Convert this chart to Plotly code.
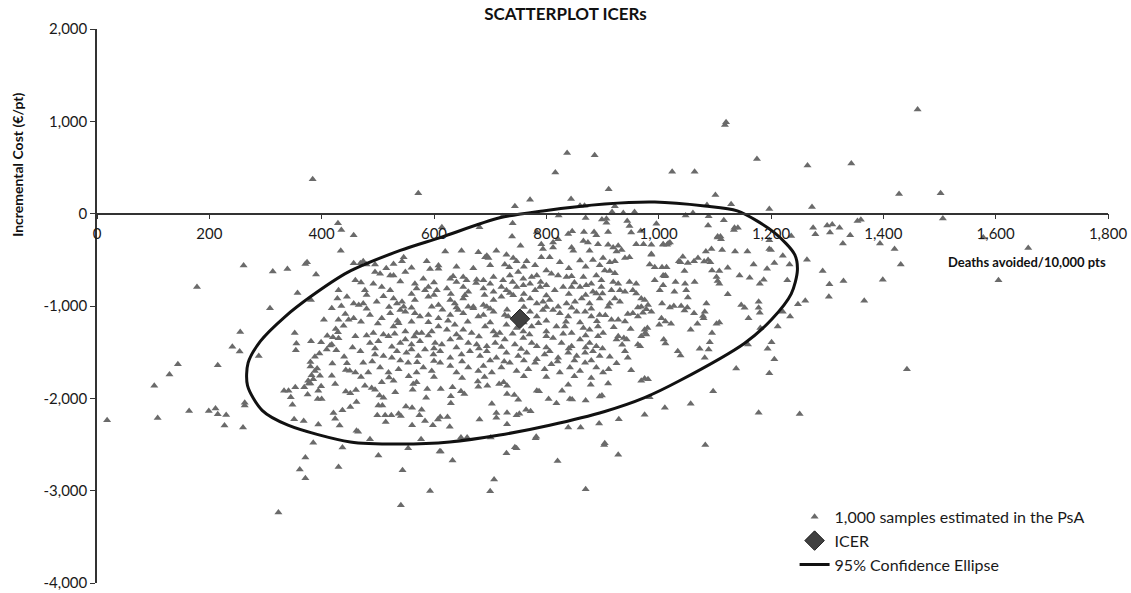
import plotly.graph_objects as go

# ---------------- data ----------------
# PSA samples: (deaths avoided / 10,000 pts, incremental cost €/pt)
psa_outer = [
    (384,372),(429,-105),(435,-177),
    (572,222),(837,657),(886,632),(816,447),(744,80),(771,151),(844,158),(860,87),(868,87),(722,-27),(740,-105),
    (681,-148),(822,-20),(870,-48),(614,-148),(739,-248),(783,-198),(839,-220),(846,-191),(867,-198),(885,-198),
    (889,-234),(457,-234),(899,-63),
    (1120,989),(1118,960),(1024,454),(1064,454),(1175,593),(1265,522),(1343,543),(911,265),(922,80),(1101,201),
    (1129,101),(1086,94),(1197,51),(1273,73),(917,19),(937,8),(957,19),(1048,-20),(1061,8),(1089,-27),(1088,-127),
    (1116,-70),(1135,-152),(1141,-152),(1134,-177),(907,-56),(907,-98),(944,-80),(948,-134),(910,-198),(951,-205),
    (996,-109),(968,-187),(1275,-152),(1279,-223),(1300,-127),(1309,-116),(1322,-152),(1305,-205),(1341,-234),
    (1354,-80),(1105,-248),(1110,-248),(1236,-241),
    (1461,1128),(1428,212),(1502,222),(1506,-52),(1360,-66),
    (1394,-323),(1420,-384),(1431,-551),(1399,-715),(1366,-943),(1442,-1685),(1605,-722),(1658,-373),(1578,-259),
]
psa_left = [
    (434,-402),(261,-562),(313,-626),(339,-598),(371,-544),(374,-526),(390,-658),(178,-794),(357,-858),(381,-936),
    (308,-1025),(430,-829),(428,-918),(418,-1025),(404,-1150),(430,-1150),(442,-1086),(448,-1150),(439,-1214),
    (425,-1250),(429,-1285),(255,-1282),(352,-1293),(355,-1407),(354,-1478),(381,-1382),(399,-1393),(410,-1321),
    (420,-1339),(415,-1428),(418,-1417),(409,-1471),(426,-1478),(241,-1442),(254,-1492),(288,-1542),(388,-1549),
    (396,-1514),(380,-1606),(380,-1656),(392,-1678),(388,-1703),(397,-1756),(382,-1749),(385,-1792),(376,-1810),
    (419,-1624),(445,-1621),(443,-1692),(418,-1756),(144,-1631),(215,-1642),(129,-1742),
    (102,-1863),(18,-2237),(108,-2212),(164,-2138),(199,-2138),(211,-2109),(215,-2173),(230,-2180),(227,-2294),
    (263,-2048),(263,-2077),(260,-2316),(333,-1917),(341,-1917),(353,-1881),(369,-1881),(377,-1838),(380,-1838),
    (345,-1988),(348,-2070),(375,-1959),(394,-1917),(399,-1870),(393,-2006),(400,-2006),(424,-1845),(443,-1927),
    (451,-2095),(421,-2159),(424,-2220),(437,-2130),(351,-2227),(368,-2245),(394,-2284),(432,-2294),(385,-2480),
    (437,-2533),(371,-2640),(361,-2772),(371,-2865),(430,-2744),(323,-3236),
    (430,-1350),(440,-1550),(450,-1700),(435,-1000),(445,-900),
]
psa_bottom = [
    (501,-2619),(544,-2779),(554,-2540),(593,-3004),(541,-3157),(610,-2576),(612,-2576),(633,-2672),(729,-2594),
    (744,-2530),(747,-2540),(707,-2879),(700,-3007),(820,-2680),(870,-2986),(486,-2444),(577,-2444),(648,-2423),
    (659,-2423),(701,-2423),(781,-2433),(782,-2416),(462,-2351),(465,-2362),(839,-2316),(861,-2316),(894,-2273),
    (903,-2505),(730,-2280),(681,-2230),(628,-2309),(598,-2291),(561,-2291),(514,-2255),(499,-2184),(513,-2184),
    (524,-2184),(537,-2166),(541,-2191),(574,-2184),(584,-2245),(607,-2230),(611,-2202),(624,-2202),(550,-2088),
    (561,-2102),(578,-2123),(501,-2077),(508,-2077),(462,-2041),(711,-2159),(711,-2209),(730,-2155),(747,-2184),
    (752,-2166),(764,-2123),(772,-2141),(630,-2052),(630,-1977),(633,-1881),(703,-2059),(730,-1952),(743,-1963),
    (750,-2016),(804,-2006),(818,-2052),(828,-1917),(839,-1852),(842,-2006),(846,-2013),(870,-2023),(879,-1852),
    (895,-1981),(899,-1970),(783,-1917),(787,-1924),(730,-1863),(724,-1827),(716,-1845),(695,-1863),(679,-1874),
    (678,-1817),(648,-1924),(654,-1952),(588,-1899),(586,-1995),(612,-1899),(562,-1906),(531,-1934),(477,-1863),
    (461,-1909),(451,-1945),(489,-1888),(495,-1906),(507,-1827),(503,-1970),(510,-1995),(563,-1845),(569,-1827),
    (528,-1810),
    (1097,-1924),(1057,-2059),(1011,-2102),(975,-2177),(929,-2227),(984,-1988),(969,-1810),(910,-1838),
    (1178,-2155),(1251,-2170),(904,-2487),(928,-2612),(1083,-2505),
]
psa_right = [
    (1328,-323),(1264,-498),(1292,-622),(1329,-729),(1304,-765),(1303,-900),(1248,-982),(1261,-943),(1234,-1114),
    (1221,-1061),(1212,-1221),(1181,-1239),(1201,-1392),(1194,-1464),(1206,-1578),(1197,-1728),(1138,-1678),
    (1159,-1417),(1160,-1132),(1178,-954),(1178,-1018),(1180,-1072),(1147,-990),(1153,-1018),(1123,-872),
    (1229,-722),(1233,-551),(1206,-533),(1193,-597),(1169,-551),(1144,-669),(1162,-694),(1180,-758),(1187,-715),
    (1158,-409),(1136,-409),(1113,-394),(1094,-383),(1084,-409),(1197,-384),(1200,-394),(1197,-287),(1221,-455),
    (1123,-587),(1108,-622),(1095,-615),(1103,-687),(1105,-729),(1108,-758),(1088,-501),(1092,-526),(1081,-519),
    (1070,-480),(1063,-515),(1052,-533),(1039,-526),(1043,-466),(1036,-515),(1046,-622),(1064,-740),(1047,-758),
    (1049,-829),(1052,-908),(1030,-740),(1028,-847),(1011,-679),(1006,-580),(993,-580),(984,-551),(987,-444),
    (1008,-669),(973,-330),(960,-330),(1008,-330),(1017,-323),(1085,-972),(1082,-1061),(1079,-1107),(1080,-1132),
    (1063,-1079),(1046,-1050),(1051,-1015),(1040,-1000),(1027,-1000),(1020,-1015),(1006,-972),(1005,-1132),
    (1012,-1168),(1022,-1193),(1001,-1203),(1057,-1257),(1069,-1193),(1095,-1293),(1103,-1193),(1108,-1179),
    (1091,-1392),(1089,-1471),(1073,-1464),(1082,-1560),(1034,-1489),(1039,-1535),(1009,-1364),(1012,-1407),
    (975,-1257),(980,-1239),(976,-1293),(969,-1328),(963,-1417),(967,-1435),(978,-1310),(940,-1489),(945,-1560),
    (928,-1328),(925,-1364),(938,-1346),(943,-1364),(913,-1549),(911,-1685),(951,-1695),(975,-1784),(981,-1792),
    (993,-722),(1002,-829),(1008,-776),(1012,-669),(1014,-580),(910,-337),(919,-366),(925,-409),(934,-394),
    (928,-348),(913,-526),(922,-515),(940,-480),(948,-473),(904,-615),(913,-622),(922,-644),(919,-740),(928,-758),
    (916,-829),(931,-829),(922,-918),(913,-972),(931,-954),(940,-847),(948,-740),(960,-758),(954,-829),(960,-865),
    (969,-918),(975,-936),(963,-1015),(969,-1008),(972,-1072),(978,-1036),(981,-990),(987,-1061),(963,-1114),
    (954,-1079),(945,-1086),(928,-1150),(916,-1150),(910,-1008),(940,-1168),(987,-337),(987,-437),(1020,-312),
    (1015,-337),(1008,-337),(1105,-259),(1111,-277),
    (920,-1230),(935,-1420),(905,-1100),(950,-1250),(925,-1620),
]
psa_core = [
    (754,-348),(791,-330),(812,-312),(821,-277),(866,-295),(874,-312),(892,-330),(877,-401),(845,-366),(848,-401),
    (812,-366),(794,-384),
    (620,-409),(649,-401),(679,-419),(694,-455),(691,-473),(697,-480),(711,-401),(729,-444),(741,-480),(726,-551),
    (734,-580),(747,-516),(765,-516),(791,-473),(806,-473),(824,-526),(860,-508),(883,-501),(901,-480),(587,-516),
    (608,-562),(593,-598),(546,-473),(543,-516),(528,-544),(495,-551),(469,-537),(474,-516),(457,-537),(480,-551),
    (495,-633),(504,-651),(522,-669),(528,-669),(549,-633),(581,-704),(608,-597),(629,-704),(634,-679),(652,-687),
    (658,-722),(676,-715),(688,-722),(706,-687),(723,-722),(735,-669),(750,-633),(759,-704),(774,-687),(783,-669),
    (800,-615),(809,-651),(821,-669),(836,-687),(845,-679),(866,-687),(889,-669),(898,-722),(460,-722),
    (492,-758),(507,-794),(522,-829),(477,-829),(566,-758),(569,-811),(584,-829),(590,-794),(605,-829),(623,-811),
    (652,-794),(661,-847),(688,-811),(706,-847),(720,-794),(729,-829),(747,-794),(759,-776),(771,-758),(780,-829),
    (789,-794),(800,-776),(815,-829),(830,-794),(845,-794),(860,-794),(871,-776),(883,-847),(898,-794),(889,-865),
    (457,-972),(466,-990),(474,-972),(498,-954),(528,-918),(534,-972),(543,-954),(546,-1008),(566,-936),(590,-900),
    (596,-1008),(608,-990),(629,-936),(637,-972),(655,-883),(652,-918),(670,-1008),(688,-990),(694,-1008),
    (706,-936),(720,-900),(741,-883),(756,-936),(771,-918),(783,-972),(794,-954),(806,-936),(821,-1008),(836,-972),
    (851,-954),(863,-918),(877,-972),(895,-918),
    (457,-1132),(486,-1097),(507,-1132),(522,-1079),(540,-1043),(549,-1061),(566,-1079),(575,-1114),(590,-1097),
    (608,-1132),(629,-1097),(643,-1043),(652,-1079),(661,-1008),(670,-1025),(679,-1114),(688,-1097),(706,-1061),
    (726,-1097),(732,-1114),(771,-1061),(783,-1114),(794,-1043),(812,-1043),(824,-1079),(839,-1114),(854,-1061),
    (869,-1061),(880,-1114),(895,-1097),
    (460,-1328),(492,-1293),(510,-1310),(528,-1221),(537,-1186),(549,-1275),(569,-1293),(578,-1293),(596,-1275),
    (608,-1221),(623,-1257),(637,-1204),(652,-1257),(667,-1293),(691,-1221),(706,-1275),(717,-1293),(729,-1204),
    (747,-1239),(759,-1275),(774,-1221),(786,-1186),(800,-1275),(818,-1221),(833,-1221),(845,-1293),(866,-1239),
    (877,-1257),(892,-1221),(901,-1293),
    (469,-1489),(486,-1400),(501,-1382),(519,-1328),(540,-1400),(549,-1364),(560,-1417),(575,-1382),(602,-1400),
    (614,-1417),(629,-1364),(646,-1346),(661,-1400),(676,-1417),(694,-1435),(709,-1400),(726,-1364),(744,-1417),
    (759,-1346),(774,-1400),(783,-1435),(800,-1328),(812,-1346),(827,-1400),(845,-1435),(860,-1364),(877,-1400),
    (892,-1328),(889,-1435),
    (474,-1614),(495,-1525),(510,-1542),(525,-1560),(534,-1489),(551,-1507),(572,-1542),(584,-1471),(599,-1525),
    (611,-1489),(629,-1560),(649,-1525),(664,-1489),(682,-1542),(694,-1489),(711,-1560),(729,-1507),(750,-1542),
    (765,-1507),(783,-1578),(797,-1525),(806,-1489),(821,-1560),(839,-1507),(854,-1542),(869,-1507),(883,-1489),
    (895,-1542),
    (460,-1720),(483,-1720),(504,-1667),(519,-1720),(537,-1685),(554,-1614),(569,-1720),(581,-1667),(596,-1703),
    (611,-1614),(629,-1649),(640,-1720),(661,-1667),(679,-1703),(688,-1649),(703,-1720),(720,-1667),(735,-1614),
    (747,-1703),(768,-1685),(780,-1614),(797,-1685),(809,-1631),(824,-1720),(842,-1667),(860,-1703),(869,-1614),
    (889,-1667),(901,-1720),
]
psa_core_between = [
    (515,-590),(560,-585),(640,-575),(670,-590),(700,-560),(760,-575),(780,-560),(840,-590),(870,-575),(895,-560),
    (470,-745),(540,-735),(600,-745),(640,-740),(675,-750),(700,-760),(740,-740),(790,-740),(850,-745),(880,-760),
    (480,-880),(510,-895),(560,-870),(600,-880),(630,-870),(690,-880),(735,-860),(760,-870),(800,-885),(840,-870),
    (870,-880),(900,-865),
    (480,-1030),(520,-1010),(560,-1020),(615,-1040),(640,-1015),(700,-1030),(730,-1040),(760,-1010),(800,-1010),
    (845,-1020),(880,-1030),
    (470,-1170),(500,-1190),(535,-1160),(560,-1170),(590,-1175),(625,-1160),(660,-1170),(700,-1180),(760,-1180),
    (800,-1160),(835,-1170),(860,-1180),(890,-1165),
    (480,-1320),(530,-1300),(565,-1330),(590,-1320),(640,-1310),(680,-1330),(710,-1320),(740,-1300),(770,-1310),
    (830,-1300),(870,-1320),
    (455,-1450),(495,-1460),(525,-1440),(560,-1470),(600,-1460),(640,-1450),(680,-1460),(720,-1445),(755,-1465),
    (800,-1450),(840,-1460),(870,-1450),(900,-1460),
    (490,-1600),(540,-1590),(570,-1610),(600,-1595),(650,-1600),(700,-1590),(725,-1600),(760,-1590),(820,-1600),
    (850,-1590),(880,-1590),
    (470,-1770),(520,-1775),(555,-1760),(600,-1770),(650,-1780),(690,-1770),(760,-1760),(800,-1770),(850,-1760),
    (880,-1780),
]

icer_deaths = [753]
icer_cost = [-1139]

# traced outline of the 95% confidence ellipse
ellipse_deaths = [268,269,291,335,380,447,540,611,717,794,904,993,1082,1140,1206,1242,1247,1236,1201,1153,
                  1037,975,904,806,717,628,540,451,340,294,268]
ellipse_cost = [-1863,-1617,-1381,-1114,-900,-633,-398,-259,-45,30,105,126,83,30,-205,-441,-612,-869,-1147,-1403,
                -1810,-1992,-2142,-2291,-2398,-2473,-2495,-2473,-2291,-2131,-1863]

x_ticks = [0, 200, 400, 600, 800, 1000, 1200, 1400, 1600, 1800]
x_tick_text = ["0", "200", "400", "600", "800", "1,000", "1,200", "1,400", "1,600", "1,800"]
y_ticks = [2000, 1000, 0, -1000, -2000, -3000, -4000]
y_tick_text = ["2,000", "1,000", "0", "-1,000", "-2,000", "-3,000", "-4,000"]

# ---------------- figure ----------------
samples = psa_outer + psa_left + psa_bottom + psa_right + psa_core + psa_core_between
sx = [p[0] for p in samples]
sy = [p[1] for p in samples]

FONT = "Lato, 'Open Sans', sans-serif"
fig = go.Figure()
fig.add_trace(go.Scatter(
    x=sx, y=sy, mode="markers", name="1,000 samples estimated in the PsA",
    marker=dict(symbol="triangle-up", size=7, color="#6a6a6a", line=dict(width=0)),
    legendrank=1,
))
fig.add_trace(go.Scatter(
    x=ellipse_deaths, y=ellipse_cost, mode="lines", name="95% Confidence Ellipse",
    line=dict(color="#111111", width=3, shape="spline", smoothing=0.8),
    legendrank=3,
))
fig.add_trace(go.Scatter(
    x=icer_deaths, y=icer_cost, mode="markers", name="ICER",
    marker=dict(symbol="diamond", size=15, color="#404040", line=dict(color="#1e1e1e", width=1)),
    legendrank=2,
))

fig.update_layout(
    width=1131, height=593,
    margin=dict(l=97, r=23, t=29, b=10, autoexpand=False),
    plot_bgcolor="white", paper_bgcolor="white",
    font=dict(family=FONT, color="#1a1a1a", size=14),
    title=dict(text="<b>SCATTERPLOT ICERs</b>", x=0.5, xref="container", xanchor="center",
               y=0.976, yanchor="middle", font=dict(size=17, color="#111111")),
    showlegend=True,
    legend=dict(x=0.69, y=0.15, xanchor="left", yanchor="top", bgcolor="rgba(0,0,0,0)",
                font=dict(size=16, color="#1a1a1a"), tracegroupgap=0),
    xaxis=dict(range=[0, 1800], anchor="free", position=4000/6000, showgrid=False, zeroline=False,
               showline=True, linecolor="#333333", linewidth=1.5, automargin=False,
               ticks="outside", ticklen=5, tickcolor="#333333", ticklabelstandoff=2,
               tickvals=x_ticks, ticktext=x_tick_text, tickfont=dict(size=15)),
    yaxis=dict(range=[-4000, 2000], showgrid=False, zeroline=False,
               showline=True, linecolor="#333333", linewidth=1.5, automargin=False,
               ticks="outside", ticklen=5, tickcolor="#333333", ticklabeloverflow="allow",
               tickvals=y_ticks, ticktext=y_tick_text, tickfont=dict(size=15)),
    annotations=[
        dict(text="<b>Incremental Cost (€/pt)</b>", textangle=-90, xref="paper", yref="paper",
             x=-0.078, y=0.755, xanchor="center", yanchor="middle", showarrow=False,
             font=dict(size=14, color="#111111")),
        dict(text="<b>Deaths avoided/10,000 pts</b>", xref="paper", yref="paper",
             x=1.0, y=0.58, xanchor="right", yanchor="middle", showarrow=False,
             font=dict(size=13, color="#111111")),
    ],
)

fig.write_html("out.html", config={"displayModeBar": False},
               post_script="document.body.style.margin='0px';document.body.style.overflow='hidden';")
